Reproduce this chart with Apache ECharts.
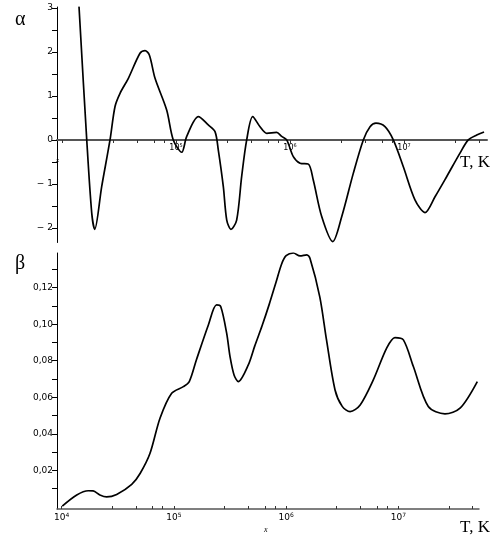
<!DOCTYPE html>
<html>
<head>
<meta charset="utf-8">
<script src="https://cdn.jsdelivr.net/npm/echarts@6/dist/echarts.min.js"></script>
<style>
  html, body { margin: 0; padding: 0; background: #fff; }
  #chart { width: 494px; height: 541px; }
</style>
</head>
<body>
<div id="chart"></div>
<script>
// top panel: alpha against lg T
var alphaLgT = [4.149, 4.217, 4.261, 4.287, 4.348, 4.421, 4.465, 4.509, 4.582, 4.684,
  4.728, 4.766, 4.816, 4.918, 4.976, 5.05, 5.094, 5.196, 5.283, 5.342,
  5.371, 5.415, 5.445, 5.482, 5.532, 5.576, 5.62, 5.673, 5.737, 5.796,
  5.883, 5.927, 5.971, 6.029, 6.088, 6.161, 6.204, 6.278, 6.375, 6.454,
  6.555, 6.643, 6.702, 6.754, 6.833, 6.906, 6.994, 7.096, 7.184, 7.272,
  7.375, 7.491, 7.564, 7.638, 7.702];
var alphaVal = [3.03, 0, -1.67, -2.03, -1.06, 0, 0.76, 1.06, 1.40, 1.97,
  2.03, 1.93, 1.40, 0.68, 0, -0.28, 0.08, 0.53, 0.34, 0.19,
  -0.23, -1.06, -1.82, -2.03, -1.82, -0.83, 0, 0.53, 0.30, 0.15,
  0.17, 0.08, 0, -0.38, -0.53, -0.55, -0.91, -1.74, -2.31, -1.74,
  -0.76, 0, 0.30, 0.38, 0.30, 0, -0.61, -1.36, -1.65, -1.29,
  -0.83, -0.30, 0, 0.11, 0.18];

// bottom panel: beta against lg T
var betaLgT = [4.005, 4.134, 4.237, 4.28, 4.34, 4.40, 4.49, 4.624, 4.70, 4.787,
  4.876, 4.98, 5.084, 5.137, 5.20, 5.307, 5.38, 5.417, 5.47, 5.50,
  5.536, 5.574, 5.663, 5.72, 5.785, 5.85, 5.91, 5.96, 6.0, 6.064,
  6.124, 6.184, 6.213, 6.30, 6.36, 6.436, 6.50, 6.57, 6.66, 6.777,
  6.896, 6.97, 7.045, 7.134, 7.267, 7.416, 7.55, 7.704];
var betaVal = [0.0004, 0.0065, 0.0088, 0.0087, 0.0065, 0.0054, 0.0068, 0.0123, 0.0184, 0.0293,
  0.0485, 0.0622, 0.0658, 0.0686, 0.0804, 0.0996, 0.1106, 0.1097, 0.0951, 0.0823,
  0.0722, 0.0686, 0.0777, 0.088, 0.099, 0.111, 0.123, 0.133, 0.1375, 0.139,
  0.1374, 0.138, 0.136, 0.115, 0.0914, 0.064, 0.055, 0.0521, 0.0558, 0.0695,
  0.0869, 0.0927, 0.0914, 0.0768, 0.0549, 0.0509, 0.054, 0.0686];

// ticks
var topDecades = [5, 6, 7];
var bottomDecades = [4, 5, 6, 7];
var xTicks = [4, 4.45, 4.66, 4.81, 4.9, 5, 5.45, 5.66, 5.81, 5.9, 6, 6.45, 6.66, 6.81, 6.9, 7, 7.45, 7.66];
var alphaLabels = [-2, -1, 0, 1, 2, 3];
var alphaTicks = [-2, -1.5, -1, -0.5, 0, 0.5, 1, 1.5, 2, 2.5, 3];
var betaLabels = [0.02, 0.04, 0.06, 0.08, 0.10, 0.12];
var betaTicks = [0.01, 0.02, 0.03, 0.04, 0.05, 0.06, 0.07, 0.08, 0.09, 0.10, 0.11, 0.12, 0.13];

function pairs(xs, ys) {
  return xs.map(function (x, i) { return [x, ys[i]]; });
}

var tickFont = 'DejaVu Sans';
function decadeLabel(values, size) {
  return {
    customValues: values,
    color: '#000',
    margin: 3,
    formatter: function (v) { return '{a|10}{b|' + v + '}'; },
    rich: {
      a: { fontSize: size, fontFamily: tickFont, color: '#000' },
      b: { fontSize: size - 3, fontFamily: tickFont, color: '#000', padding: [0, 0, 5, 0] }
    }
  };
}

var myChart = echarts.init(document.getElementById('chart'));
myChart.setOption({
  backgroundColor: '#fff',
  animation: false,
  grid: [
    { left: 57, top: 7, width: 430, height: 235.5 },
    { left: 57, top: 253, width: 422, height: 256 }
  ],
  xAxis: [{
    gridIndex: 0,
    type: 'value',
    min: 3.956, max: 7.728,
    // moved up from the grid bottom to alpha = 0
    offset: -102.5,
    axisLine: { onZero: false, lineStyle: { color: '#555', width: 2 } },
    axisTick: { show: true, length: 3, customValues: xTicks, lineStyle: { color: '#333' } },
    axisLabel: decadeLabel(topDecades, 8),
    splitLine: { show: false }
  }, {
    gridIndex: 1,
    type: 'value',
    min: 3.958, max: 7.719,
    axisLine: { onZero: false, lineStyle: { color: '#555', width: 1.5 } },
    axisTick: { show: true, inside: true, length: 3, customValues: xTicks, lineStyle: { color: '#333' } },
    axisLabel: decadeLabel(bottomDecades, 9),
    splitLine: { show: false }
  }],
  yAxis: [{
    gridIndex: 0,
    type: 'value',
    min: -2.33, max: 3.02,
    axisLine: { show: true, onZero: false, lineStyle: { color: '#000', width: 1 } },
    axisTick: { show: true, length: 5, customValues: alphaTicks, lineStyle: { color: '#000' } },
    axisLabel: {
      customValues: alphaLabels,
      fontFamily: tickFont, fontSize: 9, color: '#000', margin: 4,
      formatter: function (v) { return v < 0 ? '\u2212 ' + (-v) : String(v); }
    },
    splitLine: { show: false }
  }, {
    gridIndex: 1,
    type: 'value',
    min: -0.0012, max: 0.139,
    axisLine: { show: true, onZero: false, lineStyle: { color: '#000', width: 1 } },
    axisTick: { show: true, length: 5, customValues: betaTicks, lineStyle: { color: '#000' } },
    axisLabel: {
      customValues: betaLabels,
      fontFamily: tickFont, fontSize: 9, color: '#000', margin: 4,
      formatter: function (v) { return v.toFixed(2).replace('.', ','); }
    },
    splitLine: { show: false }
  }],
  series: [{
    name: 'alpha',
    type: 'line',
    xAxisIndex: 0, yAxisIndex: 0,
    data: pairs(alphaLgT, alphaVal),
    smooth: 0.3,
    showSymbol: false,
    clip: true,
    lineStyle: { color: '#000', width: 1.7 }
  }, {
    name: 'beta',
    type: 'line',
    xAxisIndex: 1, yAxisIndex: 1,
    data: pairs(betaLgT, betaVal),
    smooth: 0.3,
    showSymbol: false,
    clip: true,
    lineStyle: { color: '#000', width: 1.7 }
  }],
  graphic: [
    { type: 'text', left: 15, top: 10, style: { text: '\u03b1', font: '20px "Liberation Serif"', fill: '#000' } },
    { type: 'text', left: 15, top: 254, style: { text: '\u03b2', font: '20px "Liberation Serif"', fill: '#000' } },
    { type: 'text', right: 4, top: 154, style: { text: 'T, K', font: '17px "Liberation Serif"', fill: '#000' } },
    { type: 'text', right: 4, top: 519, style: { text: 'T, K', font: '17px "Liberation Serif"', fill: '#000' } },
    { type: 'text', left: 264, top: 526, style: { text: 'x', font: 'italic 8px "Liberation Serif"', fill: '#000' } },
    { type: 'text', left: 56, top: 157, style: { text: 'x', font: 'italic 7px "Liberation Serif"', fill: '#000' } }
  ]
});
</script>
</body>
</html>
